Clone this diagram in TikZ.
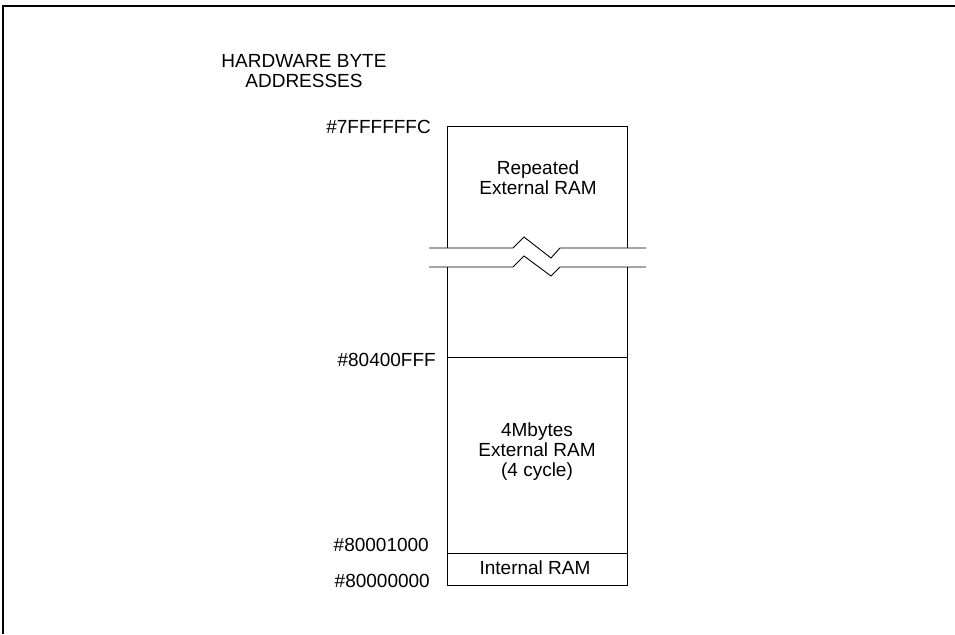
\documentclass[tikz,border=0pt]{standalone}
\usepackage{fontspec}
\setmainfont{Liberation Sans}
\begin{document}
\begin{tikzpicture}[x=1pt,y=-1pt,
  lbl/.style={font=\fontsize{19}{20}\selectfont, inner sep=0pt},
  addr/.style={lbl, anchor=east},
  region/.style={lbl, align=center},
  boxline/.style={line width=0.9pt, black},
  frameline/.style={line width=1.2pt, black}]
\useasboundingbox (0,0) rectangle (955,634);
% outer frame (left and top only)
\draw[frameline] (3,634) -- (3,6) -- (955,6);
% memory column
\coordinate (tl) at (447,126);
\coordinate (tr) at (627,126);
\coordinate (bl) at (447,585);
\coordinate (br) at (627,585);
\draw[boxline] (447,248) -- (tl) -- (tr) -- (627,248);
\draw[boxline] (447,267) -- (bl) -- (br) -- (627,267);
\draw[boxline] (447,357) -- (627,357);
\draw[boxline] (447,553) -- (627,553);
% break lines
\draw[boxline] (429,248) -- (513,248) -- (524,237) -- (551,258) -- (560,248) -- (646,248);
\draw[boxline] (429,267) -- (513,267) -- (524,256) -- (551,276) -- (560,267) -- (646,267);
% labels
\node[region] (hdr) at (304,71) {HARDWARE BYTE\\ADDRESSES};
\node[addr] (a1) at (431,127) {\#7FFFFFFC};
\node[addr] (a2) at (436,360) {\#80400FFF};
\node[addr] (a3) at (429,545) {\#80001000};
\node[addr] (a4) at (430,581) {\#80000000};
\node[region] (r1) at (538,178) {Repeated\\External RAM};
\node[region] (r2) at (537,452) {4Mbytes\\External RAM\\(4 cycle)};
\node[region] (r3) at (535,568) {Internal RAM};
\end{tikzpicture}
\end{document}
